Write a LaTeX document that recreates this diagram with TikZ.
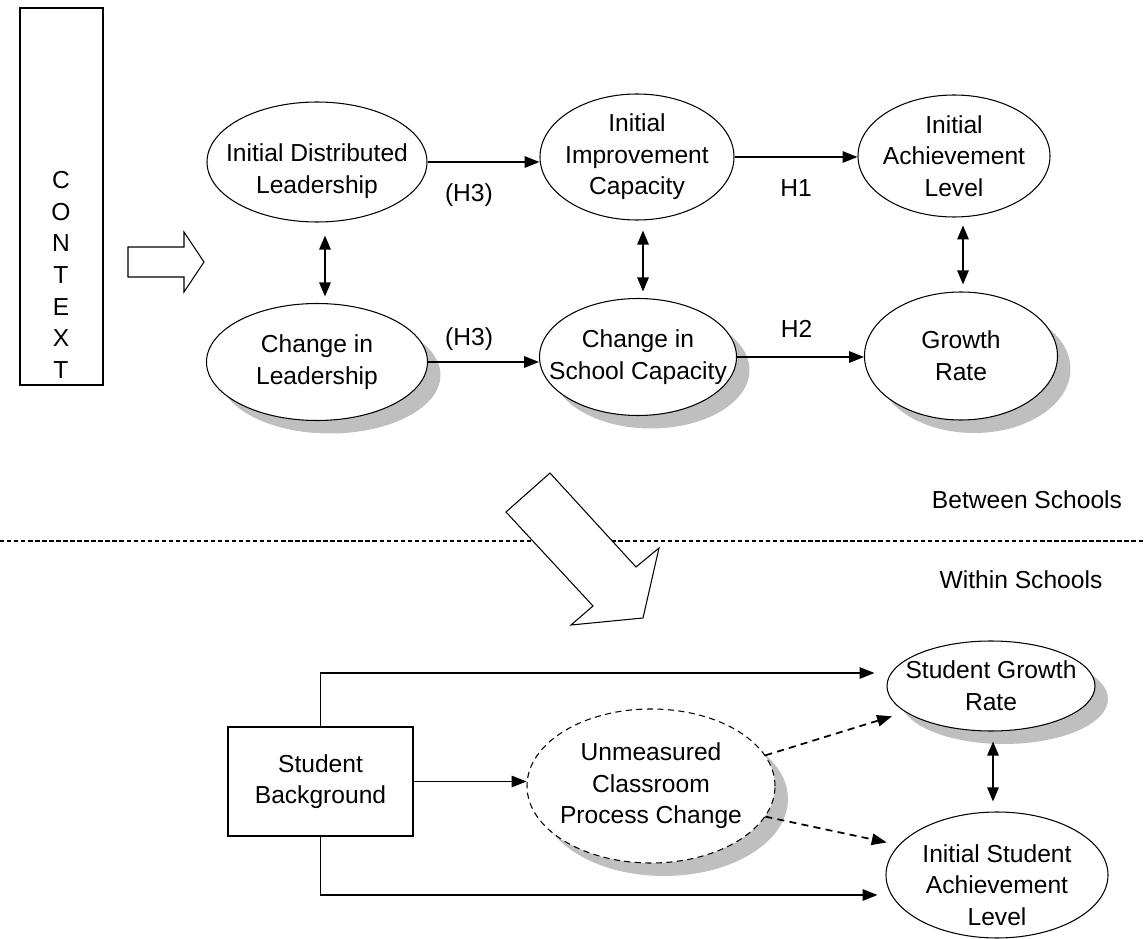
\documentclass[tikz,border=0pt]{standalone}
\usepackage{fontspec}
\setmainfont{Liberation Sans}
\usetikzlibrary{arrows.meta,shapes.geometric,shadows}

\begin{document}
\begin{tikzpicture}[x=0.02cm,y=-0.02cm,font=\fontsize{14pt}{18pt}\selectfont,line width=.6pt,
    oval/.style 2 args={ellipse,draw,fill=white,inner sep=0pt,
      minimum width=#1*0.02cm,minimum height=#2*0.02cm},
    shadowed/.style={drop shadow={shadow xshift=.26cm,shadow yshift=-.26cm,fill=black!25,opacity=1}},
    every label/.style={align=center},
    link/.style={-{Triangle[length=8.5pt,width=6.5pt]},line width=1pt},
    twoway/.style={{Triangle[length=8pt,width=6.5pt]}-{Triangle[length=8pt,width=6.5pt]},line width=1pt},
    hidden/.style={dash pattern=on 4pt off 3pt}]
  \useasboundingbox (0,0) rectangle (1144,939);
  \node[draw,minimum width=83*0.02cm,minimum height=377*0.02cm] (ctx) at (61.5,196.5) {};
  \node[align=center] (ctxt) at (61,275) {C\\O\\N\\T\\E\\X\\T};
  \draw[fill=white] (128,247) -- (184,247) -- (184,232) -- (204,262) -- (184,292) -- (184,277) -- (128,277) -- cycle;
  % between schools
  \node[oval={220}{120},label={[yshift=-.18cm]center:Initial Distributed\\Leadership}] (idl) at (317,162) {};
  \node[oval={194}{126},label={center:Initial\\Improvement\\Capacity}] (iic) at (637,157) {};
  \node[oval={192}{122},label={center:Initial\\Achievement\\Level}] (ial) at (954,156) {};
  \node[oval={221}{117},shadowed,label={center:Change in\\Leadership}] (cl) at (317,362) {};
  \node[oval={197}{117},shadowed,label={center:Change in\\School Capacity}] (csc) at (638,357) {};
  \node[oval={193}{128},shadowed,label={center:Growth\\Rate}] (gr) at (961,356) {};
  \draw[link] (idl.east) -- node[below=.3cm,pos=.37] (h3a) {(H3)} (idl.east -| iic.west);
  \draw[link] (iic.east) -- node[below=.32cm] (h1) {H1} (iic.east -| ial.west);
  \draw[link] (cl.east) -- node[above=.1cm,pos=.37] (h3b) {(H3)} (cl.east -| csc.west);
  \draw[link] (csc.east) -- node[above=.26cm,pos=.47] (h2) {H2} (csc.east -| gr.west);
  \draw[twoway,shorten <=7.4pt,shorten >=3.7pt] ([xshift=.16cm]idl.south) -- ([xshift=.16cm]idl.south |- cl.north);
  \draw[twoway,shorten <=5.7pt,shorten >=3.7pt] ([xshift=.12cm]iic.south) -- ([xshift=.12cm]iic.south |- csc.north);
  \draw[twoway,shorten <=4.5pt,shorten >=4pt] ([xshift=.18cm]ial.south) -- ([xshift=.18cm]ial.south |- gr.north);
  % separator
  \draw[dash pattern=on 2.5pt off 1.5pt] (0,541) -- (1144,541);
  \node (btw) at (1027,500) {Between Schools};
  \node (wth) at (1021,580) {Within Schools};
  \draw[fill=white] (550,473) -- (636,567) -- (659,548) -- (643,618) -- (571,625) -- (593,606) -- (506,512) -- cycle;
  % within schools
  \node[draw,minimum width=185*0.02cm,minimum height=109*0.02cm,align=center] (bg) at (320.5,781.5) {Student\\Background};
  \node[oval={248}{154},shadowed,dash pattern=on 3.5pt off 2.5pt,
    label={center:Unmeasured\\Classroom\\Process Change}] (ucpc) at (651,786) {};
  \node[oval={208}{90},shadowed,label={center:Student Growth\\Rate}] (sgr) at (991,686) {};
  \node[oval={222}{126},label={[yshift=-.2cm]center:Initial Student\\Achievement\\Level}] (isal) at (997,875) {};
  \draw[link] (bg.east) -- (bg.east -| ucpc.west);
  \draw[link] (bg.north) |- ([xshift=-.24cm,yshift=.26cm]sgr.west);
  \draw[link] (bg.south) |- ([xshift=-.16cm,yshift=-.4cm]isal.west);
  \draw[link,hidden,shorten >=8pt] (ucpc.15) -- (sgr.197);
  \draw[link,hidden,shorten >=7pt] (ucpc.345) -- (isal.163);
  \draw[twoway,shorten <=5.7pt,shorten >=5.7pt] ([xshift=.04cm]sgr.south) -- ([xshift=.04cm]sgr.south |- isal.north);
\end{tikzpicture}
\end{document}
